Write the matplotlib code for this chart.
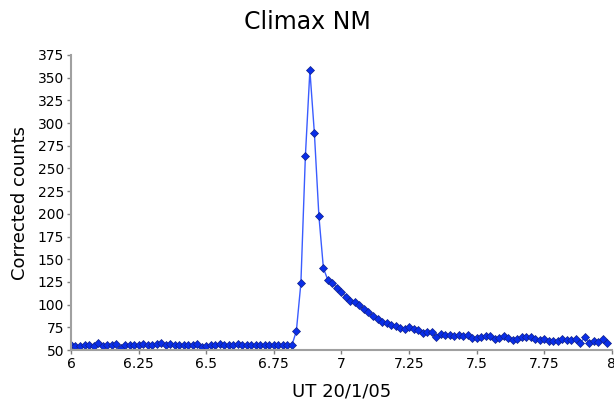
import numpy as np
import matplotlib
matplotlib.use("Agg")
import matplotlib.pyplot as plt

# one-minute samples from 6:00 to 7:59 UT
minutes = np.arange(120)
hours = 6 + minutes / 60.0

counts = [
    55, 54, 54.5, 55.5, 55.5, 54.5, 58, 54.5, 55, 55.5,
    57, 52.5, 55.5, 56, 56, 55.5, 56.5, 56, 56, 56.5,
    57.5, 55.5, 56.5, 56, 56, 55.5, 55.5, 55, 57, 53,
    54.5, 55, 56, 57, 56, 55.5, 55.5, 57, 55, 56,
    56, 55.5, 55, 55, 55, 55, 55, 55, 55, 55,
    71, 123.5, 263.7, 358, 288.6, 197.6, 140, 127, 123.5, 118.8,
    113.5, 108.7, 104.5, 103, 99.3, 95, 92, 87, 84.5, 81.2,
    79.4, 77.9, 76.8, 74.6, 72.8, 75, 73.1, 71.7, 68.4, 70.2,
    69.8, 64, 67.3, 66.2, 66.9, 65.8, 66.2, 65.1, 66.2, 62.9,
    62.9, 64.3, 65.4, 65.4, 62.5, 62.9, 65.1, 62.9, 61.4, 62.1,
    64, 64.3, 64, 62.1, 60.7, 61.8, 59.6, 59.6, 60, 61.8,
    61, 61, 62.1, 58, 64, 57.3, 60, 58.6, 62.1, 57.3,
]

x_ticks = [6, 6.25, 6.5, 6.75, 7, 7.25, 7.5, 7.75, 8]
x_tick_labels = ["6", "6.25", "6.5", "6.75", "7", "7.25", "7.5", "7.75", "8"]
y_ticks = list(range(50, 376, 25))

fig = plt.figure(figsize=(6.14, 4.0), dpi=100)
ax = fig.add_axes([0.1156, 0.125, 0.881, 0.7375])

ax.plot(hours, counts, color="#3a5cff", linewidth=1.0,
        marker="D", markersize=4.5, markerfacecolor="#0a2ee8",
        markeredgecolor="#10208a", markeredgewidth=0.5)

ax.set_xlim(6, 8)
ax.set_ylim(50, 375)
ax.set_xticks(x_ticks)
ax.set_xticklabels(x_tick_labels)
ax.set_yticks(y_ticks)

for side in ["top", "right"]:
    ax.spines[side].set_visible(False)
for side in ["left", "bottom"]:
    ax.spines[side].set_color("#a0a0a0")
    ax.spines[side].set_linewidth(1.5)

ax.tick_params(axis="both", direction="out", length=3, width=1,
               color="#808080", labelsize=10, pad=2)

ax.set_xlabel("UT 20/1/05", fontsize=13, labelpad=8)
ax.set_ylabel("Corrected counts", fontsize=13, labelpad=6)
fig.suptitle("Climax NM", fontsize=17, y=0.975)

fig.savefig("out.png", dpi=100)
